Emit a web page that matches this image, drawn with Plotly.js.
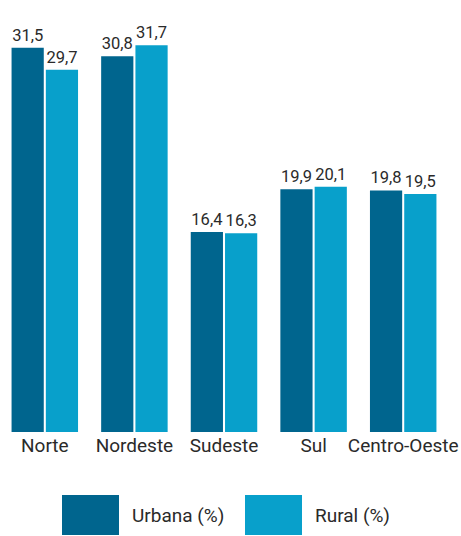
<!DOCTYPE html>
<html>
<head>
<meta charset="utf-8">
<script src="https://cdn.plot.ly/plotly-3.0.1.min.js"></script>
<style>html,body{margin:0;padding:0;background:#fff;}#chart{width:461px;height:536px;}</style>
</head>
<body>
<div id="chart"></div>
<script>
var categories = ["Norte", "Nordeste", "Sudeste", "Sul", "Centro-Oeste"];
var seriesNames = ["Urbana (%)", "Rural (%)"];
var urbana = [31.5, 30.8, 16.4, 19.9, 19.8];
var rural = [29.7, 31.7, 16.3, 20.1, 19.5];

var colors = ["#00658E", "#08A0CB"];
var font = "Roboto, 'Liberation Sans', sans-serif";
var textColor = "#2a2a2a";

var W = 461, H = 536, mL = 0, mR = 13, mT = 5, mB = 104;
var pw = W - mL - mR, ph = H - mT - mB;
function px(x) { return (x - mL) / pw; }
function py(y) { return (H - mB - y) / ph; }

function mk(vals, i) {
  return {
    type: "bar", x: categories, y: vals, name: seriesNames[i],
    marker: {color: colors[i]},
    text: vals.map(function(v){ return v.toFixed(1).replace(".", ","); }),
    textposition: "outside", cliponaxis: false, constraintext: "none",
    textfont: {family: font, size: 16.5, color: textColor},
    hoverinfo: "none"
  };
}

var legendItems = [
  {x0: 62, x1: 119, y0: 495, y1: 535, tx: 130},
  {x0: 245, x1: 302, y0: 495, y1: 535, tx: 313}
];
var shapes = [], annotations = [];
legendItems.forEach(function(it, i){
  shapes.push({type: "rect", xref: "paper", yref: "paper",
    x0: px(it.x0), x1: px(it.x1), y0: py(it.y1), y1: py(it.y0),
    fillcolor: colors[i], line: {width: 0}});
  annotations.push({xref: "paper", yref: "paper", x: px(it.tx), y: py((it.y0 + it.y1) / 2),
    xanchor: "left", yanchor: "middle", showarrow: false, text: seriesNames[i],
    font: {family: font, size: 19, color: textColor}});
});

var layout = {
  width: W, height: H,
  margin: {l: mL, r: mR, t: mT, b: mB, pad: 0},
  paper_bgcolor: "#fff", plot_bgcolor: "#fff",
  barmode: "group", bargap: 0.235, bargroupgap: 0.06,
  showlegend: false,
  xaxis: {showline: false, showgrid: false, zeroline: false, ticks: "", ticklen: 0,
    tickfont: {family: font, size: 19, color: textColor}, fixedrange: true},
  yaxis: {range: [0, 35], visible: false, showgrid: false, zeroline: false, fixedrange: true},
  shapes: shapes, annotations: annotations
};

Plotly.newPlot("chart", [mk(urbana, 0), mk(rural, 1)], layout, {displayModeBar: false, staticPlot: true});
</script>
</body>
</html>
